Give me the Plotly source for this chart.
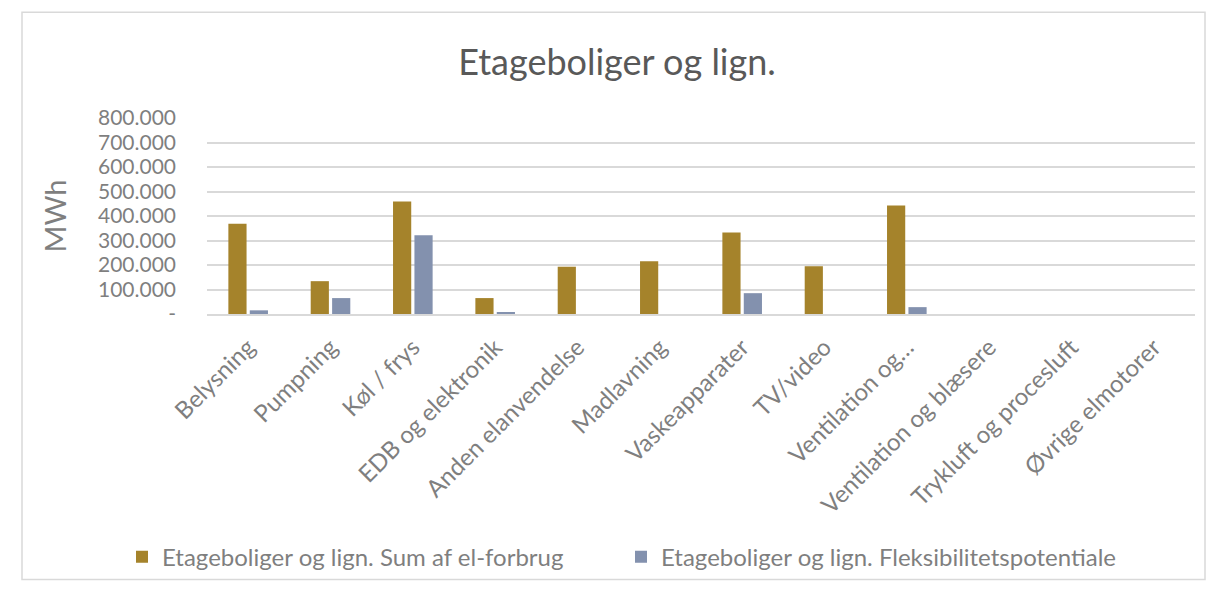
import plotly.graph_objects as go

categories = ["Belysning", "Pumpning", "Køl / frys", "EDB og elektronik", "Anden elanvendelse",
              "Madlavning", "Vaskeapparater", "TV/video", "Ventilation og…",
              "Ventilation og blæsere", "Trykluft og procesluft", "Øvrige elmotorer"]
sum_forbrug = [368000, 134000, 459000, 65000, 193000, 215000, 333000, 195000, 443000, 0, 0, 0]
fleks = [15000, 65000, 321000, 8000, 0, 0, 85000, 0, 28000, 0, 0, 0]
y_tickvals = [0, 100000, 200000, 300000, 400000, 500000, 600000, 700000, 800000]
y_ticktext = ["-", "100.000", "200.000", "300.000", "400.000", "500.000", "600.000", "700.000", "800.000"]

name1 = "Etageboliger og lign. Sum af el-forbrug"
name2 = "Etageboliger og lign. Fleksibilitetspotentiale"

fig = go.Figure()
fig.add_bar(x=categories, y=sum_forbrug, name=name1, marker_color="#A5832B",
            marker_line_width=0)
fig.add_bar(x=categories, y=fleks, name=name2, marker_color="#8391AE",
            marker_line_width=0)

font_family = "Lato, Open Sans, sans-serif"
W, H = 1202, 583
L, T, R, B = 199, 110, 15, 273
pw, ph = W - L - R, H - T - B
fig.update_layout(
    width=W, height=H,
    paper_bgcolor="white", plot_bgcolor="white",
    margin=dict(l=L, r=R, t=T, b=B),
    barmode="group", bargap=0.48, bargroupgap=0.15,
    title=dict(text="Etageboliger og lign.", x=609/W, xref="container", xanchor="center",
               y=1 - 54/H, yref="container", yanchor="middle",
               font=dict(family=font_family, size=36, color="#595959")),
    font=dict(family=font_family, color="#7F7F7F"),
    showlegend=True,
    legend=dict(orientation="h", x=(114 - L)/pw, xanchor="left", xref="paper",
                y=-(558 - T - ph)/ph, yanchor="middle", font=dict(size=24, color="#7F7F7F"),
                itemsizing="constant", traceorder="normal", entrywidth=454,
                entrywidthmode="pixels", itemwidth=30, bgcolor="rgba(0,0,0,0)"),
    xaxis=dict(tickangle=-45, tickfont=dict(size=24, color="#7F7F7F"),
               showgrid=False, showline=True, linecolor="#D9D9D9", linewidth=1.5, ticks="",
               ticklabelstandoff=8),
    yaxis=dict(range=[0, 800000], tickvals=y_tickvals, ticktext=y_ticktext,
               tickfont=dict(size=21, color="#7F7F7F"), showgrid=True,
               gridcolor="#D9D9D9", gridwidth=1.5, zeroline=False, showline=False,
               ticks="", ticklabelstandoff=30,
               title=dict(text="MWh", font=dict(size=29, color="#7F7F7F"), standoff=22)),
    shapes=[dict(type="rect", xref="paper", yref="paper",
                 x0=-(L - 14)/pw, x1=1 + (R - 5)/pw, y0=-(H - 2 - T - ph)/ph, y1=1 + (T - 2)/ph,
                 line=dict(color="#D9D9D9", width=1.5), fillcolor="rgba(0,0,0,0)",
                 layer="below")]
)

fig.write_html("out.html")
